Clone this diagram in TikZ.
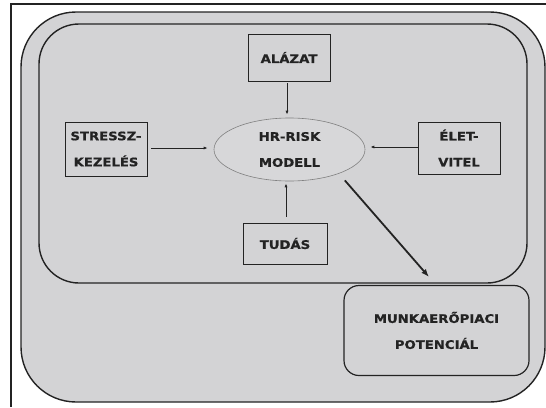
\documentclass[tikz,border=0pt]{standalone}
\usepackage{fontspec}
\setmainfont{DejaVu Sans}[FakeStretch=1.12,BoldFeatures={FakeBold=0.8}]
\usetikzlibrary{arrows.meta,shapes.geometric}
\definecolor{panel}{RGB}{211,211,213}
\definecolor{rim}{RGB}{35,35,35}
\begin{document}
\begin{tikzpicture}[x=1pt,y=-1pt,
    lbl/.style={font=\bfseries\fontsize{11.8}{26}\selectfont,text=rim,align=center,inner sep=0pt},
    sbox/.style={lbl,draw=rim,line width=0.9pt,fill=panel},
    thin/.style={-{Latex[length=4pt,width=3pt]},line width=0.8pt,draw=rim}]
        \useasboundingbox (0,0) rectangle (546,407);
        % 外枠
        \draw[line width=2pt,rim] (11,407) -- (11,4) -- (546,4);
        % 外側の角丸長方形
        \draw[line width=1.4pt,rim,fill=panel,rounded corners=55pt] (21,12) rectangle (545,402);
        % 内側の角丸長方形
        \draw[line width=1.4pt,rim,rounded corners=40pt] (39,24) rectangle (527,283);
        % 中心の楕円
        \node[ellipse,lbl,draw=gray,line width=0.6pt,fill=panel!90!white,
              minimum width=151pt,minimum height=63pt] (modell) at (289.5,149.5) {HR-RISK\\MODELL};
        % 四つの要素
        \node[sbox,minimum width=82pt,minimum height=47pt] (alazat) at (289,57.5) {ALÁZAT};
        \node[sbox,minimum width=82pt,minimum height=54pt] (stressz) at (106,149) {STRESSZ-\\KEZELÉS};
        \node[sbox,minimum width=82pt,minimum height=52pt] (elet) at (459,148) {ÉLET-\\VITEL};
        \node[sbox,minimum width=84pt,minimum height=41pt] (tudas) at (285,243.5) {TUDÁS};
        % 結果の箱
        \node[sbox,line width=1.2pt,rounded corners=15pt,minimum width=185pt,minimum height=90pt]
              (munka) at (436.5,330.5) {MUNKAERŐPIACI\\POTENCIÁL};
        % 矢印
        \draw[thin,shorten <=2pt,shorten >=3pt] (alazat.south -| 287,0) -- (modell.north -| 287,0);
        \draw[thin,shorten <=4pt,shorten >=6pt] (stressz.east |- 0,148) -- (modell.west |- 0,148);
        \draw[thin,shorten >=5pt] (elet.west |- 0,147) -- (modell.east |- 0,147);
        \draw[thin,shorten <=6pt,shorten >=2pt] (tudas.north -| 286,0) -- (modell.south -| 286,0);
        % 大きい矢印
        \coordinate (tip) at (429,277);
        \draw[-{Latex[length=8pt,width=6pt]},line width=1.8pt,rim,shorten <=9pt] (modell.-26) -- (tip);
\end{tikzpicture}
\end{document}
